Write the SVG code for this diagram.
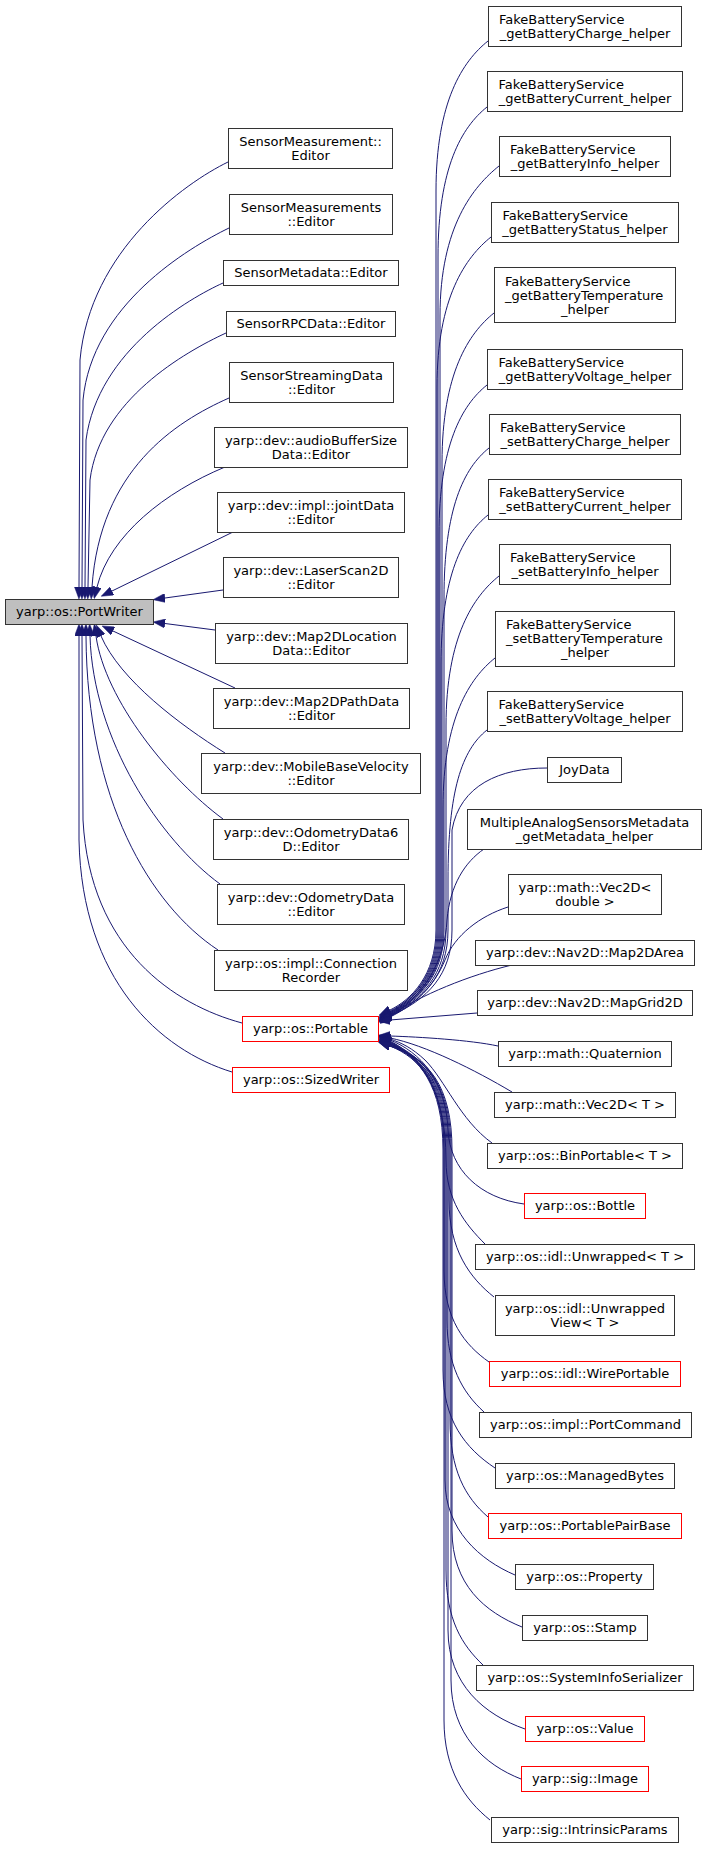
<svg xmlns="http://www.w3.org/2000/svg" width="707" height="1849" viewBox="0 0 707 1849">
<style>
text{font-family:"DejaVu Sans","Liberation Sans",sans-serif;font-size:13px;fill:#000;text-anchor:middle}
text.l{text-anchor:start}
rect{fill:#fff;stroke:#333;stroke-width:1}
rect.root{fill:#bfbfbf}
rect.red{stroke:#ff0000}
#edges path{fill:none;stroke:#191970;stroke-width:1;marker-end:url(#arr)}
</style>
<defs>
<marker id="arr" markerUnits="userSpaceOnUse" markerWidth="12" markerHeight="9" viewBox="0 0 12 9" refX="0" refY="4.5" orient="auto">
<path d="M0,0 L12,4.5 L0,9 z" fill="#191970" stroke="#191970" stroke-width="0.5"/>
</marker>
</defs>
<rect x="0" y="0" width="707" height="1849" style="fill:#fff;stroke:none"/>
<g id="edges">
<path d="M228,162 C185,183 90,250 80,360 L79,587"/>
<path d="M229,228 C188,248 92,305 83,400 L82,587"/>
<path d="M223,283 C190,298 98,350 86,440 L85,587"/>
<path d="M226,333 C185,352 100,400 90,480 L88,587"/>
<path d="M229,398 C175,422 100,470 92,587"/>
<path d="M225,467 C165,492 110,535 97,587"/>
<path d="M233,532 L112,591"/>
<path d="M223,590 L165,598"/>
<path d="M215,630 L165,623.5"/>
<path d="M235,688 L113,631"/>
<path d="M225,753 C180,725 120,680 101,636"/>
<path d="M223,819 C170,780 105,700 96,636"/>
<path d="M220,884 C160,840 93,740 90,636"/>
<path d="M218,950 C150,905 87,800 86,636"/>
<path d="M242,1023 C175,1005 90,950 83,820 L82,636"/>
<path d="M232,1072 C160,1050 82,980 79,840 L79,636"/>
<path d="M488,41 C463,61 436,101 436,191 L436,930 C436,975 411,1000 390,1010"/>
<path d="M487,107 C462,127 438,167 438,257 L438,930 C438,975 413,1000 390,1011"/>
<path d="M499,166 C474,186 440,226 440,316 L440,930 C440,975 415,1000 390,1012"/>
<path d="M491,237 C466,257 437,297 437,387 L437,930 C437,975 412,1000 390,1012"/>
<path d="M494,313 C469,333 442,373 442,463 L442,930 C442,975 417,1000 390,1013"/>
<path d="M487,385 C462,405 439,445 439,535 L439,930 C439,975 414,1000 390,1013"/>
<path d="M489,448 C464,468 444,508 444,598 L444,930 C444,975 419,1000 390,1014"/>
<path d="M488,515 C463,535 441,575 441,665 L441,930 C441,975 416,1000 390,1014"/>
<path d="M499,576 C474,596 446,636 446,726 L446,930 C446,975 421,1000 390,1015"/>
<path d="M495,658 C470,678 443,718 443,808 L443,930 C443,975 418,1000 390,1015"/>
<path d="M487,730 C462,750 448,790 448,880 L448,930 C448,975 423,1000 390,1016"/>
<path d="M547,768 C500,768 460,785 452,830 L452,930 C452,975 427,1000 390,1016"/>
<path d="M484,849 C465,862 450,885 447,920 C445,960 425,995 390,1017"/>
<path d="M508,907 C480,916 455,935 445,960 C435,985 415,1005 390,1017"/>
<path d="M512,965 C470,975 420,995 390,1016"/>
<path d="M477,1013 L390,1020"/>
<path d="M498,1046 C470,1040 420,1037 390,1036"/>
<path d="M512,1092 C475,1070 425,1045 390,1038"/>
<path d="M492,1143 C460,1120 445,1080 425,1060 C412,1048 402,1043 390,1039"/>
<path d="M524,1204 C480,1198 450,1170 448,1130 C446,1080 420,1052 390,1040"/>
<path d="M485,1244 C465,1224 446,1200 446,1160 C446,1090 420,1056 390,1041"/>
<path d="M494,1297 C470,1278 449,1250 449,1200 L449,1150 C449,1085 425,1058 390,1042"/>
<path d="M489,1362 C465,1345 444,1320 444,1270 L444,1150 C444,1085 420,1058 390,1042"/>
<path d="M484,1412 C462,1392 447,1365 447,1320 L447,1150 C447,1085 423,1058 390,1043"/>
<path d="M495,1468 C465,1448 443,1420 443,1370 L443,1150 C443,1085 419,1058 390,1043"/>
<path d="M488,1517 C465,1497 450,1470 450,1420 L450,1150 C450,1085 426,1058 390,1044"/>
<path d="M515,1575 C480,1560 445,1530 445,1480 L445,1150 C445,1085 421,1058 390,1044"/>
<path d="M522,1627 C485,1612 452,1585 452,1530 L452,1150 C452,1085 428,1058 390,1045"/>
<path d="M483,1665 C462,1645 446,1620 446,1570 L446,1150 C446,1085 422,1058 390,1045"/>
<path d="M525,1729 C485,1715 448,1685 448,1630 L448,1150 C448,1085 424,1058 390,1046"/>
<path d="M521,1779 C485,1765 451,1735 451,1680 L451,1150 C451,1085 427,1058 390,1046"/>
<path d="M490,1820 C465,1800 444,1770 444,1720 L444,1150 C444,1085 420,1058 390,1046"/>
</g>
<g id="n-PortWriter"><rect class="root" x="5.5" y="599.5" width="148" height="25"/><text x="79.5" y="615.5">yarp::os::PortWriter</text></g>
<g id="n-SensorMeasurementEditor"><rect x="228.5" y="128.5" width="164" height="40"/><text x="310.5" y="146">SensorMeasurement::</text><text x="310.5" y="160">Editor</text></g>
<g id="n-SensorMeasurementsEditor"><rect x="229.5" y="194.5" width="163" height="40"/><text x="311" y="212">SensorMeasurements</text><text x="311" y="226">::Editor</text></g>
<g id="n-SensorMetadataEditor"><rect x="223.5" y="260.5" width="175" height="25"/><text x="311" y="276.5">SensorMetadata::Editor</text></g>
<g id="n-SensorRPCDataEditor"><rect x="226.5" y="311.5" width="169" height="25"/><text x="311" y="327.5">SensorRPCData::Editor</text></g>
<g id="n-SensorStreamingDataEditor"><rect x="229.5" y="362.5" width="164" height="40"/><text x="311.5" y="380">SensorStreamingData</text><text x="311.5" y="394">::Editor</text></g>
<g id="n-audioBufferSizeData"><rect x="214.5" y="427.5" width="193" height="40"/><text x="311" y="445">yarp::dev::audioBufferSize</text><text x="311" y="459">Data::Editor</text></g>
<g id="n-jointData"><rect x="217.5" y="492.5" width="187" height="40"/><text x="311" y="510">yarp::dev::impl::jointData</text><text x="311" y="524">::Editor</text></g>
<g id="n-LaserScan2D"><rect x="223.5" y="557.5" width="175" height="40"/><text x="311" y="575">yarp::dev::LaserScan2D</text><text x="311" y="589">::Editor</text></g>
<g id="n-Map2DLocationData"><rect x="215.5" y="623.5" width="192" height="40"/><text x="311.5" y="641">yarp::dev::Map2DLocation</text><text x="311.5" y="655">Data::Editor</text></g>
<g id="n-Map2DPathData"><rect x="213.5" y="688.5" width="196" height="40"/><text x="311.5" y="706">yarp::dev::Map2DPathData</text><text x="311.5" y="720">::Editor</text></g>
<g id="n-MobileBaseVelocity"><rect x="201.5" y="753.5" width="219" height="40"/><text x="311" y="771">yarp::dev::MobileBaseVelocity</text><text x="311" y="785">::Editor</text></g>
<g id="n-OdometryData6D"><rect x="213.5" y="819.5" width="195" height="40"/><text x="311" y="837">yarp::dev::OdometryData6</text><text x="311" y="851">D::Editor</text></g>
<g id="n-OdometryData"><rect x="217.5" y="884.5" width="187" height="40"/><text x="311" y="902">yarp::dev::OdometryData</text><text x="311" y="916">::Editor</text></g>
<g id="n-ConnectionRecorder"><rect x="214.5" y="950.5" width="193" height="40"/><text x="311" y="968">yarp::os::impl::Connection</text><text x="311" y="982">Recorder</text></g>
<g id="n-Portable"><rect class="red" x="242.5" y="1016.5" width="136" height="25"/><text x="310.5" y="1032.5">yarp::os::Portable</text></g>
<g id="n-SizedWriter"><rect class="red" x="232.5" y="1067.5" width="157" height="25"/><text x="311" y="1083.5">yarp::os::SizedWriter</text></g>
<g id="n-getBatteryCharge"><rect x="488.5" y="6.5" width="193" height="40"/><text class="l" x="499" y="24">FakeBatteryService</text><text x="585" y="38">_getBatteryCharge_helper</text></g>
<g id="n-getBatteryCurrent"><rect x="487.5" y="71.5" width="195" height="40"/><text class="l" x="498.5" y="89">FakeBatteryService</text><text x="585" y="103">_getBatteryCurrent_helper</text></g>
<g id="n-getBatteryInfo"><rect x="499.5" y="136.5" width="171" height="40"/><text class="l" x="510" y="154">FakeBatteryService</text><text x="585" y="168">_getBatteryInfo_helper</text></g>
<g id="n-getBatteryStatus"><rect x="491.5" y="202.5" width="187" height="40"/><text class="l" x="502.5" y="220">FakeBatteryService</text><text x="585" y="234">_getBatteryStatus_helper</text></g>
<g id="n-getBatteryTemperature"><rect x="494.5" y="267.5" width="181" height="55"/><text class="l" x="505" y="285.5">FakeBatteryService</text><text class="l" x="505" y="299.5">_getBatteryTemperature</text><text x="585" y="313.5">_helper</text></g>
<g id="n-getBatteryVoltage"><rect x="487.5" y="349.5" width="195" height="40"/><text class="l" x="498.5" y="367">FakeBatteryService</text><text x="585" y="381">_getBatteryVoltage_helper</text></g>
<g id="n-setBatteryCharge"><rect x="489.5" y="414.5" width="191" height="40"/><text class="l" x="500" y="432">FakeBatteryService</text><text x="585" y="446">_setBatteryCharge_helper</text></g>
<g id="n-setBatteryCurrent"><rect x="488.5" y="479.5" width="193" height="40"/><text class="l" x="499" y="497">FakeBatteryService</text><text x="585" y="511">_setBatteryCurrent_helper</text></g>
<g id="n-setBatteryInfo"><rect x="499.5" y="544.5" width="171" height="40"/><text class="l" x="510" y="562">FakeBatteryService</text><text x="585" y="576">_setBatteryInfo_helper</text></g>
<g id="n-setBatteryTemperature"><rect x="495.5" y="611.5" width="179" height="55"/><text class="l" x="506" y="629">FakeBatteryService</text><text class="l" x="506" y="643">_setBatteryTemperature</text><text x="585" y="657">_helper</text></g>
<g id="n-setBatteryVoltage"><rect x="487.5" y="691.5" width="195" height="40"/><text class="l" x="498.5" y="709">FakeBatteryService</text><text x="585" y="723">_setBatteryVoltage_helper</text></g>
<g id="n-JoyData"><rect x="547.5" y="757.5" width="74" height="25"/><text x="584.5" y="773.5">JoyData</text></g>
<g id="n-MultipleAnalog"><rect x="467.5" y="809.5" width="234" height="40"/><text x="584.5" y="827">MultipleAnalogSensorsMetadata</text><text x="584.5" y="841">_getMetadata_helper</text></g>
<g id="n-Vec2Ddouble"><rect x="508.5" y="874.5" width="153" height="40"/><text x="585" y="892">yarp::math::Vec2D&lt;</text><text x="585" y="906">double &gt;</text></g>
<g id="n-Map2DArea"><rect x="475.5" y="940.5" width="219" height="25"/><text x="585" y="956.5">yarp::dev::Nav2D::Map2DArea</text></g>
<g id="n-MapGrid2D"><rect x="477.5" y="990.5" width="215" height="25"/><text x="585" y="1006.5">yarp::dev::Nav2D::MapGrid2D</text></g>
<g id="n-Quaternion"><rect x="498.5" y="1041.5" width="173" height="25"/><text x="585" y="1057.5">yarp::math::Quaternion</text></g>
<g id="n-Vec2DT"><rect x="494.5" y="1092.5" width="181" height="25"/><text x="585" y="1108.5">yarp::math::Vec2D&lt; T &gt;</text></g>
<g id="n-BinPortable"><rect x="487.5" y="1143.5" width="195" height="25"/><text x="585" y="1159.5">yarp::os::BinPortable&lt; T &gt;</text></g>
<g id="n-Bottle"><rect class="red" x="524.5" y="1193.5" width="121" height="25"/><text x="585" y="1209.5">yarp::os::Bottle</text></g>
<g id="n-Unwrapped"><rect x="475.5" y="1244.5" width="219" height="25"/><text x="585" y="1260.5">yarp::os::idl::Unwrapped&lt; T &gt;</text></g>
<g id="n-UnwrappedView"><rect x="495.5" y="1295.5" width="179" height="40"/><text x="585" y="1313">yarp::os::idl::Unwrapped</text><text x="585" y="1327">View&lt; T &gt;</text></g>
<g id="n-WirePortable"><rect class="red" x="489.5" y="1361.5" width="191" height="25"/><text x="585" y="1377.5">yarp::os::idl::WirePortable</text></g>
<g id="n-PortCommand"><rect x="479.5" y="1412.5" width="212" height="25"/><text x="585.5" y="1428.5">yarp::os::impl::PortCommand</text></g>
<g id="n-ManagedBytes"><rect x="495.5" y="1463.5" width="179" height="25"/><text x="585" y="1479.5">yarp::os::ManagedBytes</text></g>
<g id="n-PortablePairBase"><rect class="red" x="488.5" y="1513.5" width="193" height="25"/><text x="585" y="1529.5">yarp::os::PortablePairBase</text></g>
<g id="n-Property"><rect x="515.5" y="1564.5" width="138" height="25"/><text x="584.5" y="1580.5">yarp::os::Property</text></g>
<g id="n-Stamp"><rect x="522.5" y="1615.5" width="125" height="25"/><text x="585" y="1631.5">yarp::os::Stamp</text></g>
<g id="n-SystemInfoSerializer"><rect x="476.5" y="1665.5" width="217" height="25"/><text x="585" y="1681.5">yarp::os::SystemInfoSerializer</text></g>
<g id="n-Value"><rect class="red" x="525.5" y="1716.5" width="119" height="25"/><text x="585" y="1732.5">yarp::os::Value</text></g>
<g id="n-Image"><rect class="red" x="521.5" y="1766.5" width="127" height="25"/><text x="585" y="1782.5">yarp::sig::Image</text></g>
<g id="n-IntrinsicParams"><rect x="491.5" y="1817.5" width="187" height="25"/><text x="585" y="1833.5">yarp::sig::IntrinsicParams</text></g>
</svg>
